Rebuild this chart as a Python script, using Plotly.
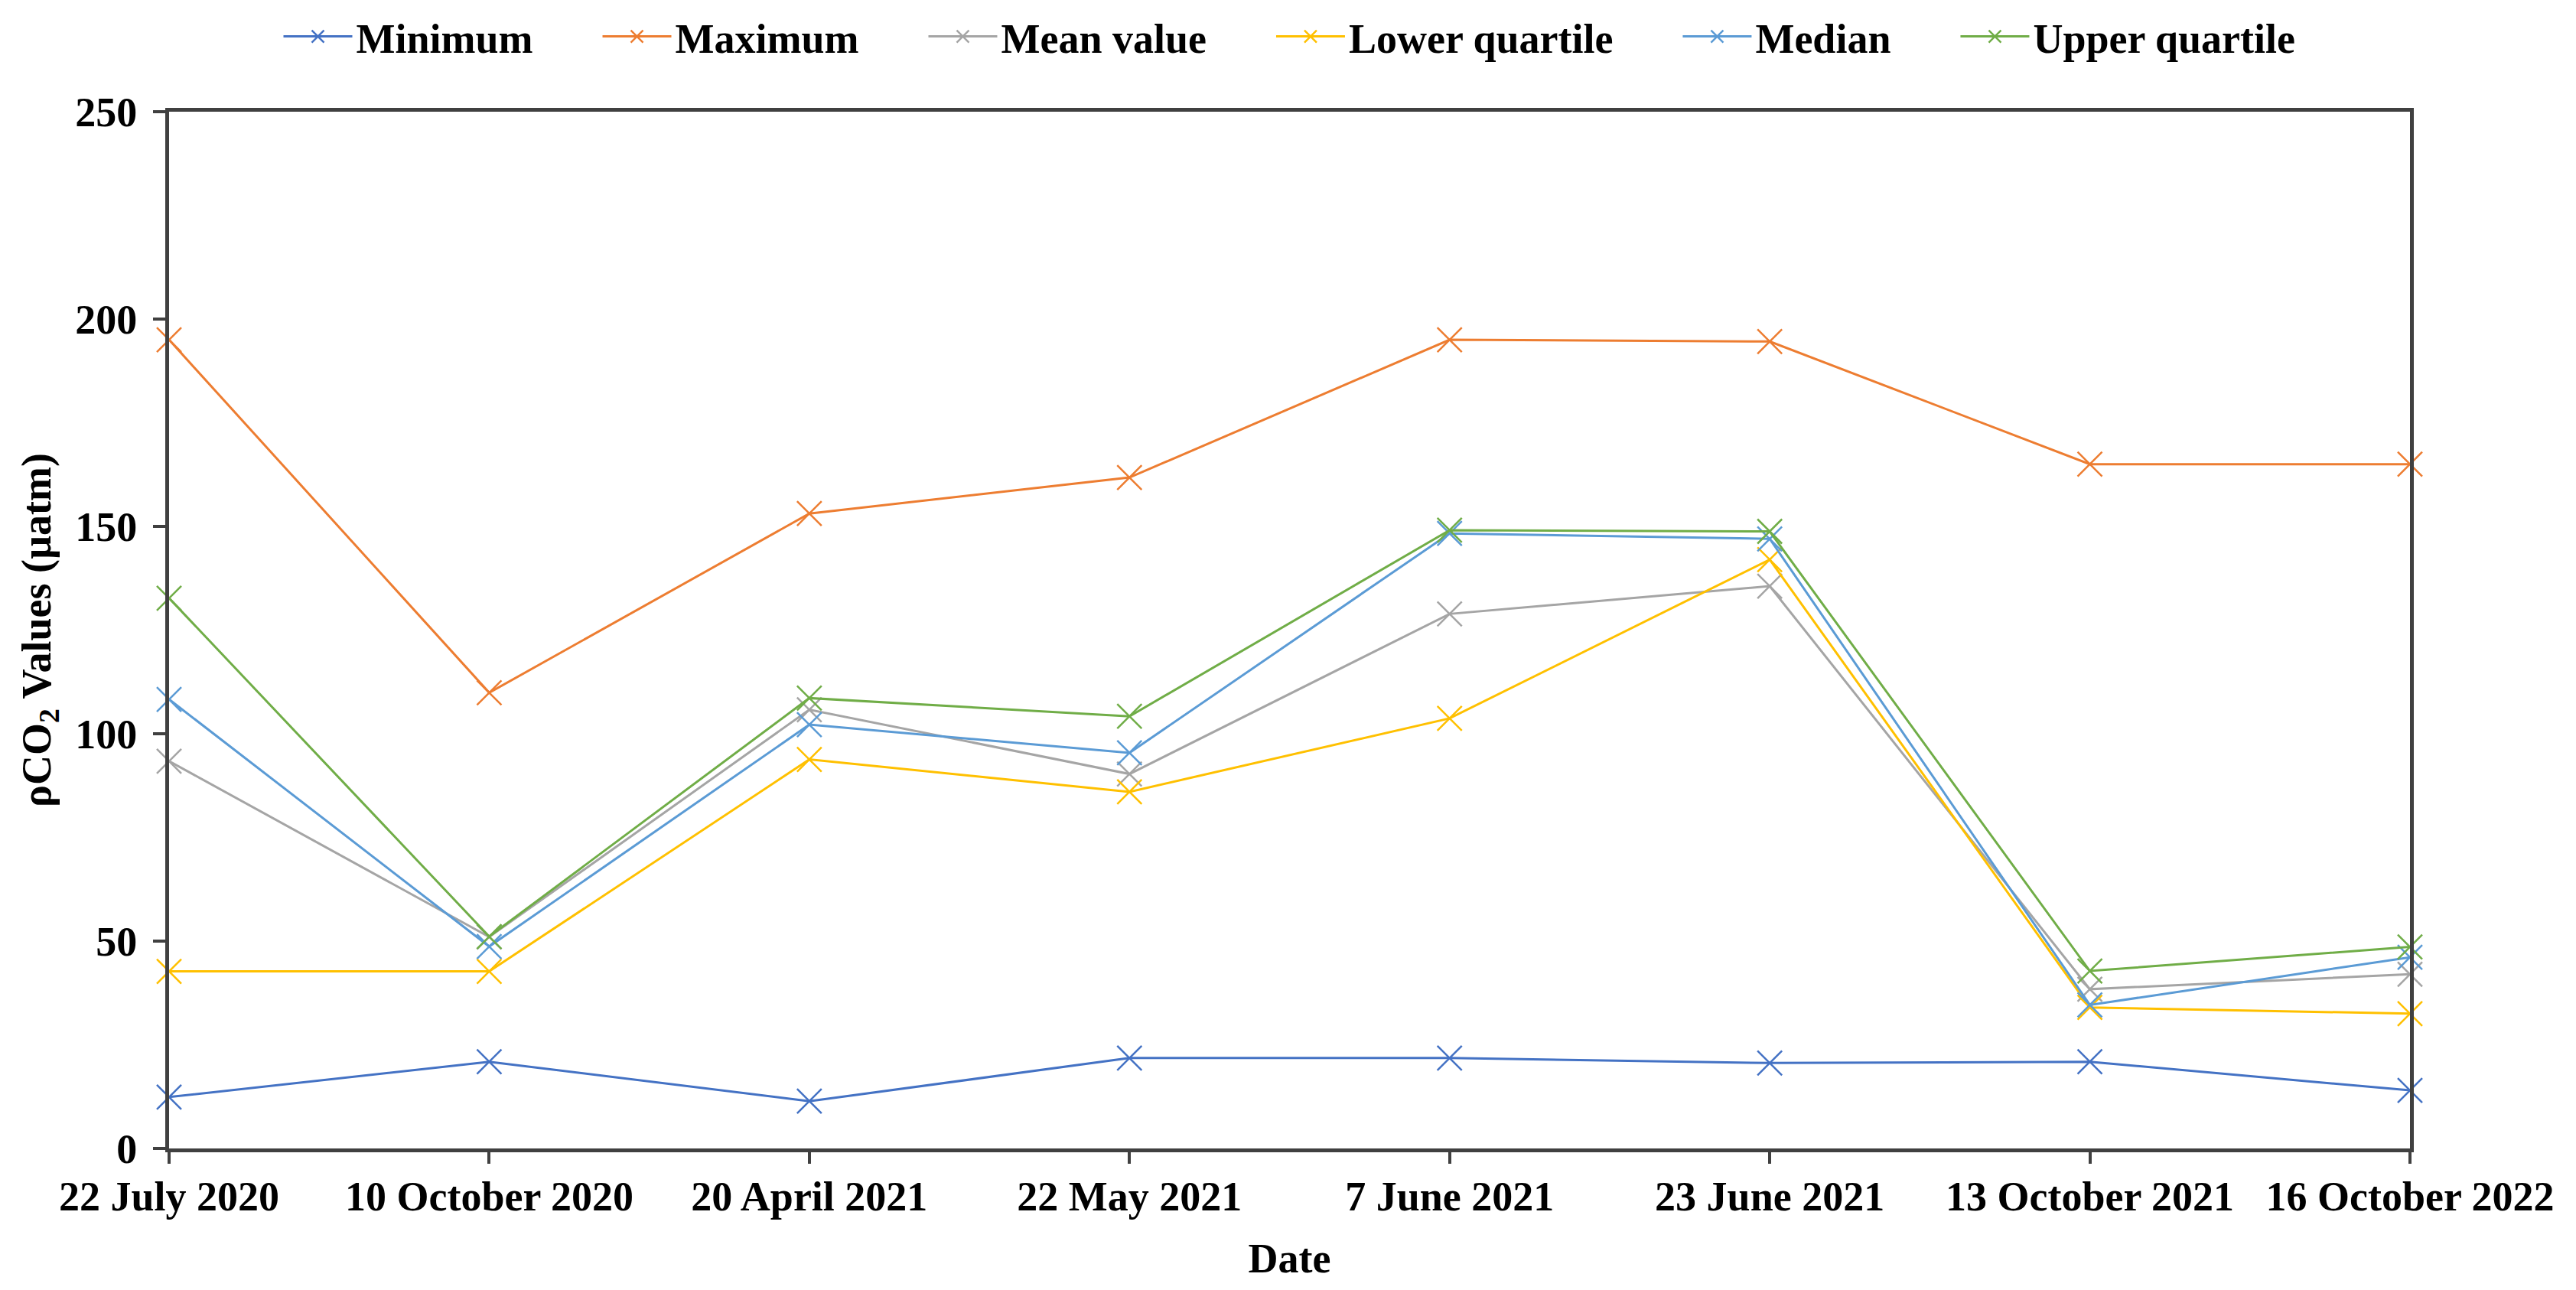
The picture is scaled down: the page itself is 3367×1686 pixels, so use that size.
import plotly.graph_objects as go

dates = ["22 July 2020", "10 October 2020", "20 April 2021", "22 May 2021",
         "7 June 2021", "23 June 2021", "13 October 2021", "16 October 2022"]

minimum = [12.4, 20.9, 11.4, 21.8, 21.8, 20.6, 20.9, 14.0]
maximum = [195.0, 109.9, 153.1, 161.8, 195.0, 194.6, 165.0, 165.0]
mean_value = [93.4, 51.0, 105.8, 90.3, 128.9, 135.6, 38.4, 42.0]
lower_quartile = [42.7, 42.7, 93.8, 86.0, 103.7, 142.0, 34.0, 32.5]
median = [108.3, 48.7, 102.2, 95.4, 148.3, 147.0, 34.6, 46.1]
upper_quartile = [132.7, 51.1, 108.6, 104.2, 149.1, 148.8, 42.8, 48.6]

series_names = ["Minimum", "Maximum", "Mean value", "Lower quartile", "Median", "Upper quartile"]
series_values = [minimum, maximum, mean_value, lower_quartile, median, upper_quartile]
series_colors = ["#4472C4", "#ED7D31", "#A5A5A5", "#FFC000", "#5B9BD5", "#70AD47"]

FONT = "Times New Roman, Liberation Serif, serif"
PAD = "\u00a0" * 6

fig = go.Figure()
for i, (name, vals, color) in enumerate(zip(series_names, series_values, series_colors)):
    label = name + (PAD if i < len(series_names) - 1 else "")
    fig.add_trace(go.Scatter(
        x=list(range(len(dates))), y=vals, name=label, mode="lines+markers",
        line=dict(color=color, width=3),
        marker=dict(symbol="x-thin-open", size=32, color=color,
                    line=dict(color=color, width=2.5)),
        cliponaxis=False,
    ))

axis_color = "#404040"
W, H = 3359, 1678  # page body has an 8px default margin
fig.update_layout(
    width=W, height=H,
    margin=dict(l=213, r=217, t=138, b=185),
    plot_bgcolor="white", paper_bgcolor="white",
    font=dict(family=FONT, size=54, color="black", weight="bold"),
    showlegend=True,
    legend=dict(orientation="h", x=0.5, xanchor="center",
                y=1 - 40 / H, yref="container", yanchor="middle",
                font=dict(family=FONT, size=54, color="black", weight="bold"),
                itemwidth=90, traceorder="normal"),
    xaxis=dict(
        tickmode="array", tickvals=list(range(len(dates))), ticktext=dates,
        range=[0, len(dates) - 1], showline=True, linecolor=axis_color,
        linewidth=5, mirror=True, ticks="outside", ticklen=15, tickwidth=4,
        tickcolor=axis_color, showgrid=False, zeroline=False,
        ticklabelstandoff=-4,
        tickfont=dict(family=FONT, size=54, weight="bold"),
        title=dict(text="Date", standoff=34,
                   font=dict(family=FONT, size=54, weight="bold")),
    ),
    yaxis=dict(
        range=[0, 250], dtick=50, showline=True, linecolor=axis_color,
        linewidth=5, mirror=True, ticks="outside", ticklen=16, tickwidth=4,
        tickcolor=axis_color, showgrid=False, zeroline=False,
        ticklabelstandoff=10,
        tickfont=dict(family=FONT, size=54, weight="bold"),
        title=dict(text="ρCO<sub>2</sub> Values (µatm)", standoff=16,
                   font=dict(family=FONT, size=54, weight="bold")),
    ),
)

fig.write_html("out.html")
